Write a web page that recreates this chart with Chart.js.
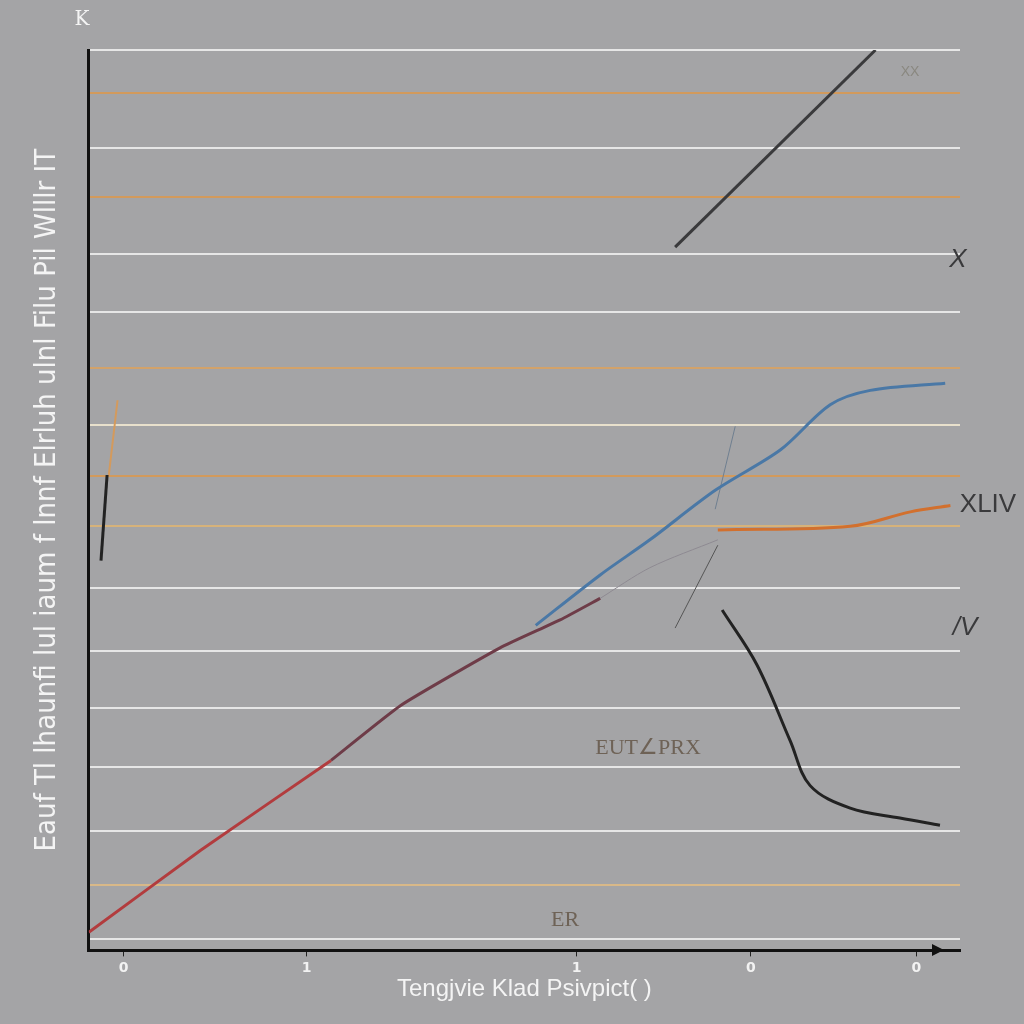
<!DOCTYPE html>
<html>
<head>
<meta charset="utf-8">
<script src="https://cdn.jsdelivr.net/npm/chart.js@4.4.0/dist/chart.umd.min.js"></script>
<style>
	html, body { margin: 0; padding: 0; background: #a4a4a6; }
	#wrap { width: 1024px; height: 1024px; }
</style>
</head>
<body>
<div id="wrap"><canvas id="chartDisplay" width="1024" height="1024"></canvas></div>
<script>
// values (x 0..10, y 0..10)
var tickValues = [0.4, 2.5, 5.6, 7.6, 9.5];
var tickLabels = ["0", "1", "1", "0", "0"];
var gridValues = [10, 9.52, 8.91, 8.37, 7.73, 7.09, 6.47, 5.84, 5.27, 4.71, 4.02, 3.33, 2.69, 2.04, 1.33, 0.73, 0.13];

var grayLine = [{x: 6.73, y: 7.81}, {x: 9.03, y: 10}];
var redLine = [{x: 0, y: 0.2}, {x: 1.28, y: 1.11}, {x: 2.78, y: 2.11}];
var maroonLine = [{x: 2.78, y: 2.11}, {x: 3.58, y: 2.72}, {x: 4.72, y: 3.36}, {x: 5.41, y: 3.67}, {x: 5.87, y: 3.91}];
var blueLine = [{x: 5.13, y: 3.61}, {x: 5.87, y: 4.17}, {x: 6.44, y: 4.56}, {x: 7.19, y: 5.11}, {x: 7.94, y: 5.56}, {x: 8.51, y: 6.06}, {x: 8.97, y: 6.22}, {x: 9.83, y: 6.30}];
var orangeLine = [{x: 7.22, y: 4.67}, {x: 8.74, y: 4.71}, {x: 9.43, y: 4.87}, {x: 9.89, y: 4.94}];
var blackLine = [{x: 7.27, y: 3.78}, {x: 7.67, y: 3.17}, {x: 8.05, y: 2.33}, {x: 8.28, y: 1.83}, {x: 8.74, y: 1.58}, {x: 9.31, y: 1.47}, {x: 9.77, y: 1.39}];
var thinA = [{x: 5.87, y: 3.91}, {x: 6.44, y: 4.25}, {x: 7.22, y: 4.56}];
var thinB = [{x: 7.19, y: 4.9}, {x: 7.42, y: 5.82}];
var thinC = [{x: 7.22, y: 4.5}, {x: 6.73, y: 3.58}];
var leftBlack = [{x: 0.14, y: 4.33}, {x: 0.21, y: 5.28}];
var leftOrange = [{x: 0.23, y: 5.28}, {x: 0.33, y: 6.11}];

var gridColors = ["#e6e6e6", "#d29a5c", "#e6e6e6", "#d29a5c", "#e6e6e6", "#e6e6e6", "#d2a26a", "#e8e0cc", "#d29a5c", "#d6b27a", "#e6e6e6", "#e6e6e6", "#e6e6e6", "#e6e6e6", "#e6e6e6", "#d8b888", "#e6e6e6"];

function lineSet(data, color, width, tension) {
	return {
		data: data,
		borderColor: color,
		borderWidth: width,
		pointRadius: 0,
		tension: tension,
		fill: false
	};
}

/**
 * Loose labels around the plot
 */
var notes = {
	id: "notes",
	afterDraw: function(chart) {
		const ctx = chart.ctx;
		ctx.save();
		ctx.textAlign = "center";
		ctx.textBaseline = "middle";
		ctx.fillStyle = "#f4f4f4";
		ctx.font = "20px 'DejaVu Serif'";
		ctx.fillText("K", 82, 20);
		ctx.fillStyle = "#3a3a3c";
		ctx.font = "italic 26px 'Liberation Sans'";
		ctx.fillText("X", 958, 260);
		ctx.fillText("/V", 965, 628);
		ctx.font = "26px 'Liberation Sans'";
		ctx.fillText("XLIV", 988, 505);
		ctx.fillStyle = "#8a8880";
		ctx.font = "14px 'Liberation Sans'";
		ctx.fillText("XX", 910, 72);
		ctx.fillStyle = "#6e6256";
		ctx.font = "22px 'Liberation Serif'";
		ctx.fillText("EUT\u2220PRX", 648, 748);
		ctx.fillText("ER", 565, 920);
		// arrow head on the x axis
		ctx.fillStyle = "#111";
		ctx.beginPath();
		ctx.moveTo(944, 950);
		ctx.lineTo(932, 944);
		ctx.lineTo(932, 956);
		ctx.closePath();
		ctx.fill();
		ctx.restore();
	}
};

function createChart() {
	const el = document.getElementById("chartDisplay");
	new Chart(el, {
		type: "line",
		data: {
			datasets: [
				lineSet(grayLine, "#3a3a3c", 3, 0),
				lineSet(redLine, "#b23c3e", 3, 0.1),
				lineSet(maroonLine, "#6e3c48", 3, 0.15),
				lineSet(blueLine, "#4a78a6", 3, 0.3),
				lineSet(orangeLine, "#d2702e", 3, 0.35),
				lineSet(blackLine, "#222222", 3, 0.35),
				lineSet(thinA, "#8e8a92", 1, 0.3),
				lineSet(thinB, "#6f7f90", 1, 0),
				lineSet(thinC, "#555555", 1, 0),
				lineSet(leftBlack, "#222222", 3, 0),
				lineSet(leftOrange, "#d49a5c", 2, 0)
			]
		},
		options: {
			responsive: false,
			animation: false,
			layout: { padding: { left: 30, right: 64, top: 50, bottom: 20 } },
			plugins: { legend: { display: false }, tooltip: { enabled: false } },
			scales: {
				x: {
					type: "linear",
					min: 0,
					max: 10,
					afterBuildTicks: function(axis) {
						axis.ticks = tickValues.map(v => ({ value: v }));
					},
					ticks: {
						color: "#f2f2f2",
						font: { size: 14, weight: "bold", family: "'DejaVu Sans'" },
						padding: 4,
						callback: function(v, i) { return tickLabels[i]; }
					},
					grid: { display: true, drawOnChartArea: false, drawTicks: true, tickLength: 6, color: "#222" },
					border: { color: "#111", width: 3 },
					title: {
						display: true,
						text: "Tengjvie Klad Psivpict( )",
						color: "#f4f4f4",
						font: { size: 24, family: "'Liberation Sans'" },
						padding: { top: -6, bottom: 0 }
					}
				},
				y: {
					type: "linear",
					min: 0,
					max: 10,
					afterBuildTicks: function(axis) {
						axis.ticks = gridValues.map(v => ({ value: v }));
					},
					ticks: { display: false },
					grid: {
						drawTicks: false,
						lineWidth: 2,
						color: function(c) { return gridColors[c.index] || "#e6e6e6"; }
					},
					border: { color: "#111", width: 3 },
					title: {
						display: true,
						text: "Eauf Tl lhaunfi lul iaum f lnnf Elrluh ulnl Filu Pil Wlllr IT",
						color: "#f4f4f4",
						font: { size: 29, family: "'Liberation Sans Narrow', 'DejaVu Sans Condensed'" },
						padding: { top: 0, bottom: 24 }
					}
				}
			}
		},
		plugins: [notes]
	});
}

createChart();
</script>
</body>
</html>
